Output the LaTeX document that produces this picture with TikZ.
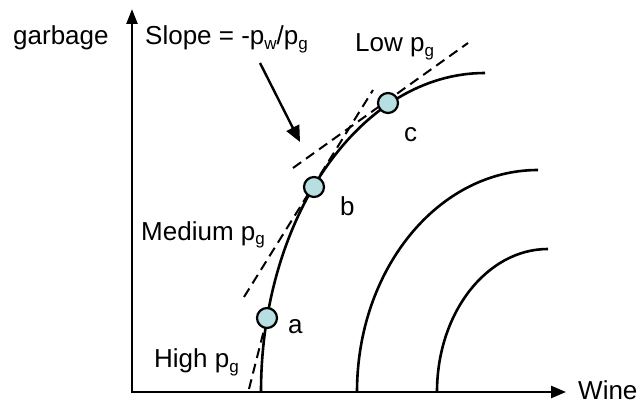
\documentclass[tikz,border=0pt]{standalone}
\usepackage{fontspec}
\setmainfont{Liberation Sans}
\usetikzlibrary{arrows.meta}
\definecolor{dotfill}{RGB}{183,222,224}
\newcommand\psub[1]{\raisebox{-5pt}{\fontsize{17}{17}\selectfont #1}}
\begin{document}
\begin{tikzpicture}[x=1pt,y=-1pt,
  lbl/.style={anchor=base west,inner sep=0pt,font=\fontsize{26}{30}\selectfont},
  dot/.style={circle,draw,line width=2.2pt,fill=dotfill,minimum size=20pt,inner sep=0pt},
  curve/.style={line width=2.6pt},
  tangent/.style={line width=2pt,dash pattern=on 10pt off 6pt},
  axis/.style={line width=2.6pt,line join=miter,{Triangle[length=15pt,width=11pt]}-{Triangle[length=15pt,width=12pt]}},
  pointer/.style={line width=2.4pt,-{Triangle[length=16pt,width=14pt]}}
]
\useasboundingbox (0,0) rectangle (644,403);

% axes
\coordinate (ytip) at (132,9);
\coordinate (orig) at (132,392);
\coordinate (xtip) at (566,392);
\draw[axis] (ytip) -- (orig) -- (xtip);

% curves
\draw[curve] (261,392) arc[start angle=180,end angle=270,x radius=224,y radius=319];
\draw[curve] (357,392) arc[start angle=180,end angle=270,x radius=181,y radius=222];
\draw[curve] (437,392) arc[start angle=180,end angle=270,x radius=111,y radius=143];

% tangents
\coordinate (ta1) at (249,389);
\coordinate (tb1) at (244,297);
\coordinate (tb2) at (373,90);
\coordinate (tc1) at (293,168);
\coordinate (tc2) at (468,43);
\coordinate (apos) at (267,318);
\draw[tangent] (ta1) -- (apos);
\draw[tangent] (tb1) -- (tb2);
\draw[tangent] (tc1) -- (tc2);

% tangent points
\node[dot] (a) at (apos) {};
\node[dot] (b) at (314,187) {};
\node[dot] (c) at (388,103) {};

% labels
\node[lbl] (ylab) at (13,45) {garbage};
\node[lbl] (slope) at (145,45) {Slope = -p\psub{w}/p\psub{g}};
\node[lbl] (low) at (355,52) {Low p\psub{g}};
\node[lbl] (lc) at (404,142) {c};
\node[lbl] (lb) at (340,215) {b};
\node[lbl] (la) at (288,333) {a};
\node[lbl] (med) at (141,240) {Medium p\psub{g}};
\node[lbl] (high) at (154,367) {High p\psub{g}};
\node[lbl] (xlab) at (578,399) {Wine};

% pointer arrow
\coordinate (ps) at (260,63);
\coordinate (pe) at (300,142);
\draw[pointer] (ps) -- (pe);
\end{tikzpicture}
\end{document}
